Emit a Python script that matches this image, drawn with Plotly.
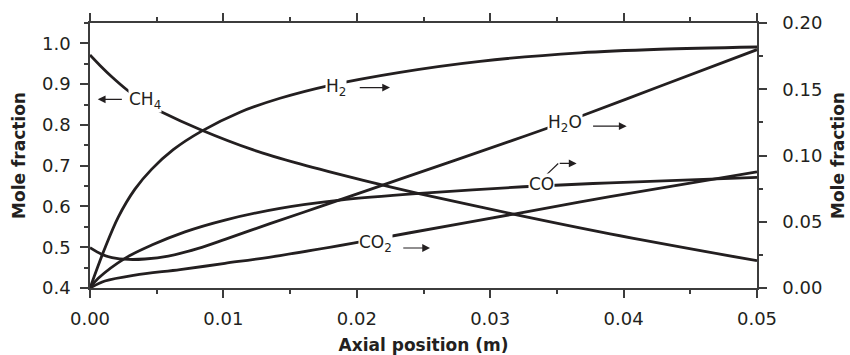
import plotly.graph_objects as go

# Axial position (m) and mole fractions along the reactor
x_ch4 = [0.0, 0.00075, 0.00165, 0.00283, 0.00412, 0.00537, 0.00825, 0.01224, 0.01574, 0.02049,
         0.02474, 0.03199, 0.03898, 0.05]
ch4 = [0.9714, 0.9457, 0.9175, 0.8844, 0.8538, 0.8318, 0.7889, 0.7387, 0.7044, 0.6640,
       0.6310, 0.5795, 0.5330, 0.4669]

x_h2 = [0.0, 0.00112, 0.00212, 0.00337, 0.00463, 0.00624, 0.00837, 0.01124, 0.01424, 0.01799,
        0.02324, 0.02924, 0.03673, 0.04273, 0.05]
h2 = [0.0, 0.0302, 0.0535, 0.0746, 0.0897, 0.1044, 0.1184, 0.1327, 0.1432, 0.1530,
      0.1628, 0.1711, 0.1775, 0.1802, 0.1819]

x_h2o = [0.0, 0.00088, 0.00165, 0.00287, 0.00412, 0.00587, 0.00812, 0.01012, 0.01349, 0.01724,
         0.02324, 0.03173, 0.03698, 0.04273, 0.05]
h2o = [0.0304, 0.0254, 0.0230, 0.0216, 0.0219, 0.0241, 0.0299, 0.0367, 0.0486, 0.0614,
       0.0822, 0.1116, 0.1304, 0.1523, 0.1799]

x_co = [0.0, 0.00062, 0.00262, 0.00463, 0.00712, 0.01012, 0.01424, 0.01874, 0.02474, 0.03248,
        0.03898, 0.05]
co = [0.0, 0.0073, 0.0224, 0.0324, 0.0424, 0.0513, 0.0601, 0.0663, 0.0714, 0.0764,
      0.0794, 0.0835]

x_co2 = [0.0, 0.00112, 0.00337, 0.00675, 0.01012, 0.01424, 0.01974, 0.02399, 0.03199, 0.03898, 0.05]
co2 = [0.0, 0.0053, 0.0098, 0.0139, 0.0186, 0.0245, 0.0339, 0.0417, 0.0562, 0.0690, 0.0877]

INK = "#231f20"
AXIS = "#3c3c3c"
FONT = "DejaVu Sans"

fig = go.Figure()

line_style = dict(color=INK, width=2.8, shape="spline", smoothing=0.9)
fig.add_trace(go.Scatter(x=x_ch4, y=ch4, yaxis="y", mode="lines", line=line_style, hoverinfo="skip"))
for xs, ys in [(x_h2, h2), (x_h2o, h2o), (x_co, co), (x_co2, co2)]:
    fig.add_trace(go.Scatter(x=xs, y=ys, yaxis="y2", mode="lines", line=line_style, hoverinfo="skip"))

# species labels sitting on their curves
labels = [
    ("CH<sub>4</sub>", 0.00412, 0.861, "y"),
    ("H<sub>2</sub>", 0.01844, 0.1515, "y2"),
    ("H<sub>2</sub>O", 0.0356, 0.1242, "y2"),
    ("CO", 0.03381, 0.0786, "y2"),
    ("CO<sub>2</sub>", 0.0214, 0.0337, "y2"),
]
annotations = []
for text, xv, yv, yr in labels:
    annotations.append(dict(
        text=text, x=xv, y=yv, xref="x", yref=yr, showarrow=False,
        bgcolor="white", borderpad=0, font=dict(family=FONT, size=17, color=INK),
    ))

# arrows pointing to the axis each curve is read against: (tail x, tail y, head x, head y, axis)
arrows = [
    (0.0025, 0.8629, 0.00058, 0.8629, "y"),
    (0.02011, 0.1513, 0.02249, 0.1513, "y2"),
    (0.0376, 0.1221, 0.04023, 0.1221, "y2"),
    (0.0351, 0.0940, 0.03648, 0.0940, "y2"),
    (0.02337, 0.0302, 0.02549, 0.0302, "y2"),
]
for tx, ty, hx, hy, yr in arrows:
    annotations.append(dict(
        text="", x=hx, y=hy, ax=tx, ay=ty, xref="x", yref=yr, axref="x", ayref=yr,
        showarrow=True, arrowhead=2, arrowsize=1.3, arrowwidth=1.2, arrowcolor=INK,
        standoff=0, startstandoff=0,
    ))

# leader from the CO label up to its arrow
shapes = [dict(type="line", xref="x", yref="y2", x0=0.03411, y0=0.0844, x1=0.0351, y1=0.0940,
               line=dict(color=INK, width=1.2))]

common = dict(
    showline=True, linecolor=AXIS, linewidth=1.5, ticks="outside", ticklen=8, tickwidth=1.5,
    tickcolor=AXIS, showgrid=False, zeroline=False, automargin=False,
    tickfont=dict(family=FONT, size=18, color=INK),
)
title_font = dict(family=FONT, size=17, color=INK)

fig.update_layout(
    width=850, height=355,
    margin=dict(l=90, r=93, t=23, b=67),
    paper_bgcolor="white", plot_bgcolor="white", showlegend=False,
    template="none",
    font=dict(family=FONT, size=18, color=INK),
    xaxis=dict(
        range=[0, 0.05], tick0=0, dtick=0.01, tickformat=".2f", mirror="ticks",
        ticklabelstandoff=6,
        minor=dict(dtick=0.005, ticks="outside", ticklen=4, tickwidth=1.5, tickcolor=AXIS),
        title=dict(text="<b>Axial position (m)</b>", font=title_font, standoff=12),
        **common,
    ),
    yaxis=dict(
        range=[0.4, 1.05], tick0=0.4, dtick=0.1, tickformat=".1f", side="left",
        ticklabelstandoff=6,
        minor=dict(dtick=0.05, ticks="outside", ticklen=4, tickwidth=1.5, tickcolor=AXIS),
        title=dict(text="<b>Mole fraction</b>", font=title_font, standoff=12),
        **common,
    ),
    yaxis2=dict(
        range=[0, 0.2], tick0=0, dtick=0.05, tickformat=".2f", side="right", overlaying="y", anchor="x",
        ticklabelstandoff=12,
        minor=dict(dtick=0.025, ticks="outside", ticklen=4, tickwidth=1.5, tickcolor=AXIS),
        title=dict(text="<b>Mole fraction</b>", font=title_font, standoff=11),
        **common,
    ),
    annotations=annotations,
    shapes=shapes,
)

fig.write_html("out.html")
